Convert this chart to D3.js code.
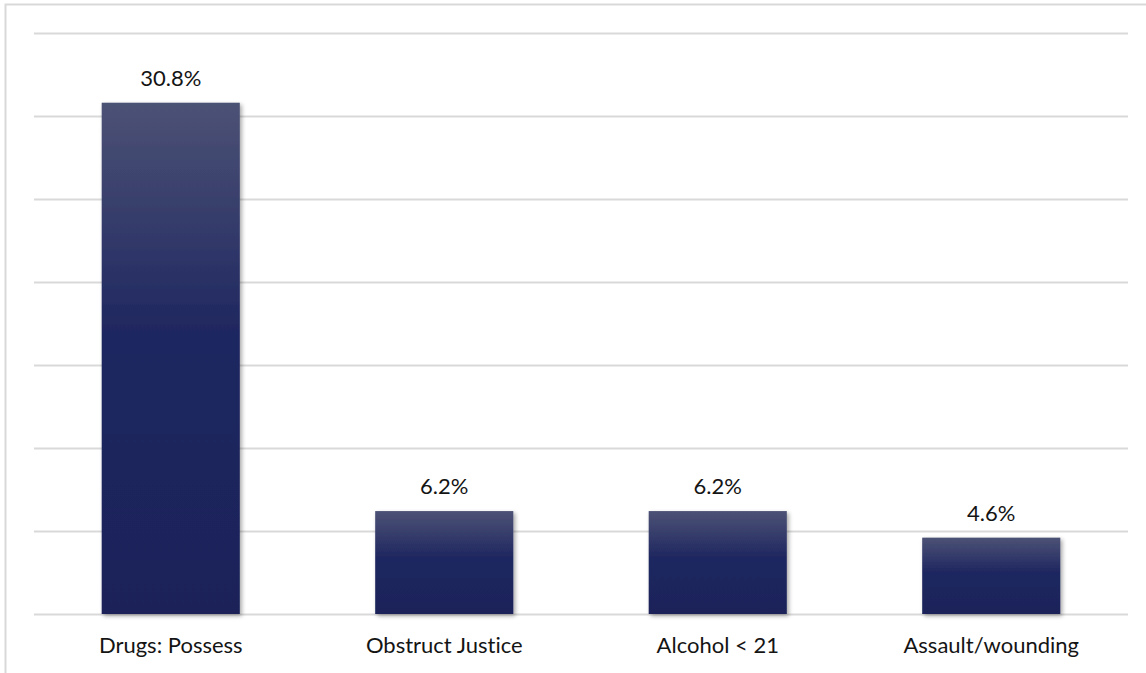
<!DOCTYPE html>
<html>
<head>
<meta charset="utf-8">
<script src="https://cdn.jsdelivr.net/npm/d3@7"></script>
<style>
  html, body { margin: 0; padding: 0; background: #ffffff; }
  svg { display: block; }
  text {
    font-family: Lato, "Liberation Sans", sans-serif;
    fill: #141414;
    font-variant-ligatures: none;
    font-feature-settings: "liga" 0, "clig" 0;
  }
</style>
</head>
<body>
<svg id="chart" width="1146" height="673"></svg>
<script>
// Offense categories and their share of cases (%)
const categories = ["Drugs: Possess", "Obstruct Justice", "Alcohol < 21", "Assault/wounding"];
const shares = [30.8, 6.2, 6.2, 4.6];
const gridTicks = [0, 5, 10, 15, 20, 25, 30, 35];

const svg = d3.select("#chart");
const W = 1146, H = 673;
const plot = { left: 34, right: 1128, top: 33, bottom: 614 };

// Frame of the chart area (left and top edges visible)
svg.append("path")
  .attr("d", `M5.5,${H} V4.5 H${W}`)
  .attr("fill", "none")
  .attr("stroke", "#d9d9d9")
  .attr("stroke-width", 2);

const x = d3.scaleBand()
  .domain(categories)
  .range([plot.left, plot.right])
  .paddingInner(0.495)
  .paddingOuter(0.2475);

const y = d3.scaleLinear()
  .domain([0, d3.max(gridTicks)])
  .range([plot.bottom, plot.top]);

const defs = svg.append("defs");
const grad = defs.append("linearGradient")
  .attr("id", "barFill")
  .attr("x1", 0).attr("y1", 0).attr("x2", 0).attr("y2", 1);
grad.append("stop").attr("offset", "0%").attr("stop-color", "#4c5275");
grad.append("stop").attr("offset", "45%").attr("stop-color", "#1f2760");
grad.append("stop").attr("offset", "100%").attr("stop-color", "#1c2359");

const shadow = defs.append("filter")
  .attr("id", "barShadow")
  .attr("x", "-10%").attr("y", "-10%").attr("width", "130%").attr("height", "130%");
shadow.append("feDropShadow")
  .attr("dx", 2).attr("dy", 2).attr("stdDeviation", 2)
  .attr("flood-color", "#000").attr("flood-opacity", 0.35);

// Horizontal gridlines
const yAxis = d3.axisLeft(y).tickValues(gridTicks)
  .tickSize(-(plot.right - plot.left)).tickFormat("");
const gy = svg.append("g")
  .attr("transform", `translate(${plot.left},0)`)
  .call(yAxis);
gy.select(".domain").remove();
gy.selectAll(".tick line")
  .attr("stroke", "#d9d9d9")
  .attr("stroke-width", 2);

// Bars
svg.append("g").selectAll("rect")
  .data(categories)
  .join("rect")
  .attr("x", d => x(d))
  .attr("y", (d, i) => y(shares[i]))
  .attr("width", x.bandwidth())
  .attr("height", (d, i) => y(0) - y(shares[i]))
  .attr("fill", "url(#barFill)")
  .attr("filter", "url(#barShadow)");

// Value labels above bars
svg.append("g").selectAll("text")
  .data(categories)
  .join("text")
  .attr("x", d => x(d) + x.bandwidth() / 2)
  .attr("y", (d, i) => y(shares[i]) - 17)
  .attr("text-anchor", "middle")
  .attr("font-size", 22)
  .text((d, i) => shares[i].toFixed(1) + "%");

// Category axis labels
const xAxis = d3.axisBottom(x).tickSize(0).tickPadding(0);
const gx = svg.append("g")
  .attr("transform", `translate(0,${plot.bottom})`)
  .call(xAxis);
gx.select(".domain").remove();
gx.selectAll(".tick text")
  .attr("dy", 0)
  .attr("y", 39)
  .attr("font-size", 22)
  .attr("font-family", "Lato, 'Liberation Sans', sans-serif")
  .attr("fill", "#141414");
</script>
</body>
</html>
